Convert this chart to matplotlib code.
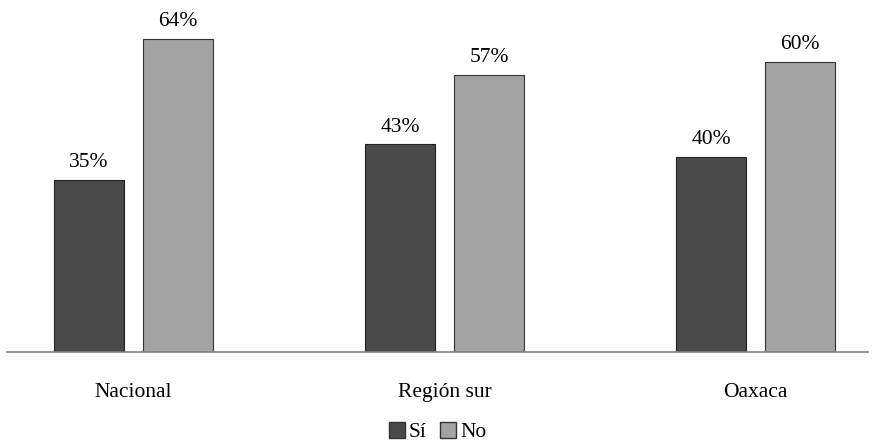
import numpy as np
import matplotlib.pyplot as plt
from matplotlib.patches import Patch

categories = ["Nacional", "Región sur", "Oaxaca"]
si = [35.3, 42.6, 40.0]
no = [64.3, 56.9, 59.5]
si_labels = ["35%", "43%", "40%"]
no_labels = ["64%", "57%", "60%"]
series_names = ["Sí", "No"]
colors = ["#4a4a4a", "#a3a3a3"]

plt.rcParams['font.family'] = ['Liberation Serif', 'DejaVu Serif']

fig = plt.figure(figsize=(8.75, 4.44), dpi=100)
ax = fig.add_axes([7 / 875, 92 / 444, 861 / 875, 342 / 444])

x = np.arange(len(categories))
w = 0.225
off = 0.143
b1 = ax.bar(x - off, si, w, color=colors[0], edgecolor="#222222", linewidth=0.8)
b2 = ax.bar(x + off, no, w, color=colors[1], edgecolor="#333333", linewidth=0.8)

for bars, labels in ((b1, si_labels), (b2, no_labels)):
    for r, lab in zip(bars, labels):
        ax.text(r.get_x() + r.get_width() / 2, r.get_height() + 1.6,
                lab, ha="center", va="bottom", fontsize=15.5)

ax.set_xlim(-0.407, 2.362)
ax.set_ylim(0, 70.2)
ax.set_yticks([])
ax.set_xticks(x)
ax.set_xticklabels(categories, fontsize=15.5)
ax.tick_params(axis="x", length=0, pad=22)
for s in ("top", "right", "left"):
    ax.spines[s].set_visible(False)
ax.spines["bottom"].set_color("#808080")
ax.spines["bottom"].set_linewidth(1.2)

handles = [Patch(facecolor=colors[i], edgecolor="#333333", label=series_names[i]) for i in range(2)]
fig.legend(handles=handles, loc="center", bbox_to_anchor=(0.5, 1 - 432 / 444), ncol=2,
           frameon=False, fontsize=15.5, handlelength=0.75, handleheight=0.75,
           handletextpad=0.2, columnspacing=0.6, borderpad=0)

fig.savefig("out.png", dpi=100)
